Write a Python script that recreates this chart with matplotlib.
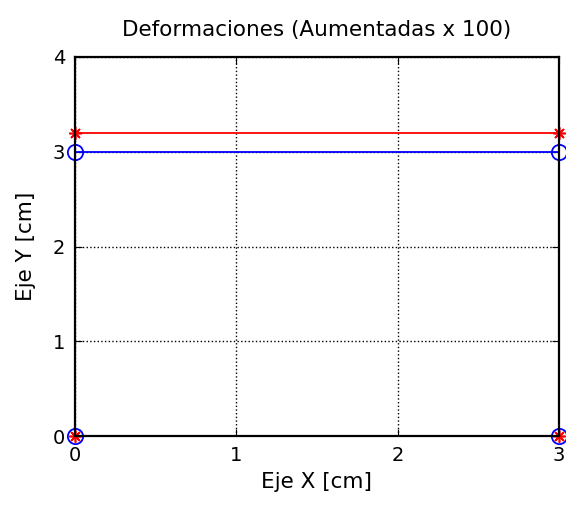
import numpy as np
import matplotlib
matplotlib.use('Agg')
from matplotlib import pyplot as plt

### Datos
x_nodos = [0, 3, 3, 0]
y_original = [0, 0, 3.0, 3.0]
y_deformada = [0, 0, 3.2, 3.2]
x_ticks = [0, 1, 2, 3]
y_ticks = [0, 1, 2, 3, 4]

plt.rcParams['font.family'] = ['DejaVu Sans']

fig = plt.figure(figsize=(5.66, 5.08), dpi=100)
ax = fig.add_axes([0.1325, 0.1417, 0.855, 0.7461])

# estructura original (azul) y deformada (roja)
ax.plot(x_nodos, y_original, color='blue', lw=1.3, marker='o', ms=11,
        mfc='none', mew=1.3, clip_on=False, zorder=3)
ax.plot(x_nodos, y_deformada, color='red', lw=1.3, marker=(8, 2, 0), ms=9,
        mew=1.2, clip_on=False, zorder=4)

ax.set_xlim(0, 3)
ax.set_ylim(0, 4)
ax.set_xticks(x_ticks)
ax.set_yticks(y_ticks)
ax.tick_params(direction='in', top=True, right=True, length=5, labelsize=14,
               pad=7)
ax.grid(True, color='black', linestyle=':', linewidth=1.0)
for s in ax.spines.values():
    s.set_linewidth(1.6)
    s.set_zorder(5)

ax.set_title('Deformaciones (Aumentadas x 100)', fontsize=15.5, pad=15)
ax.set_xlabel('Eje X [cm]', fontsize=15.5, labelpad=5)
ax.set_ylabel('Eje Y [cm]', fontsize=15.5, labelpad=12)

fig.savefig('out.png', dpi=100)
